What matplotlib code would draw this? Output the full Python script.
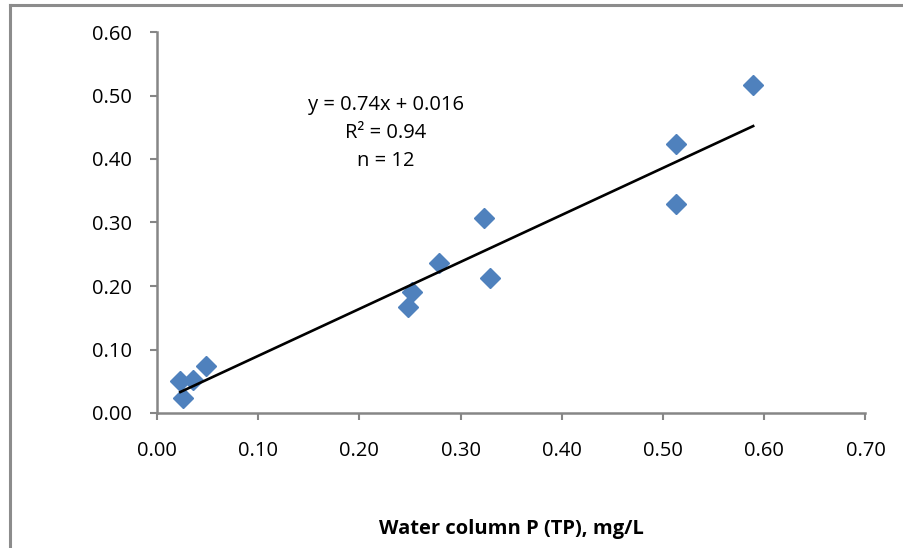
import numpy as np
import matplotlib.pyplot as plt
from matplotlib.lines import Line2D

# data
tp_water = [0.023, 0.026, 0.036, 0.048, 0.248, 0.252, 0.279, 0.323, 0.329, 0.513, 0.513, 0.589]
tp_other = [0.050, 0.024, 0.052, 0.074, 0.167, 0.190, 0.237, 0.307, 0.213, 0.423, 0.329, 0.517]
slope = 0.74
intercept = 0.016
eq_text = "y = 0.74x + 0.016\nR² = 0.94\nn = 12"
xticks = np.arange(0, 0.71, 0.1)
yticks = np.arange(0, 0.61, 0.1)

plt.rcParams['font.family'] = ['Open Sans', 'DejaVu Sans']
axis_grey = '#868686'
fs = 14.5

fig = plt.figure(figsize=(9.04, 5.48), dpi=100)
ax = fig.add_axes([157/904, 1-413/548, (865.5-157)/904, (413-32)/548])

ax.plot(tp_water, tp_other, 'D', color='#4F81BD', ms=10.5, mec='#4F81BD', zorder=3)

xf = np.array([min(tp_water), max(tp_water)])
ax.plot(xf, slope*xf + intercept, color='black', lw=1.9, zorder=4)

ax.text(0.226, 0.441, eq_text, ha='center', va='center', fontsize=fs, linespacing=1.55)

ax.set_xlim(0, 0.7)
ax.set_ylim(0, 0.6)
ax.set_xticks(xticks)
ax.set_yticks(yticks)
ax.set_xticklabels(['%.2f' % v for v in xticks])
ax.set_yticklabels(['%.2f' % v for v in yticks])
ax.tick_params(labelsize=fs, color=axis_grey, width=1.5, length=5, direction='out')
ax.tick_params(axis='x', pad=15)
ax.tick_params(axis='y', pad=13)
for s in ['top', 'right']:
    ax.spines[s].set_visible(False)
for s in ['left', 'bottom']:
    ax.spines[s].set_color(axis_grey)
    ax.spines[s].set_linewidth(1.8)

ax.set_xlabel('Water column P (TP), mg/L', fontsize=fs, fontweight='bold', labelpad=42)

# chart frame (only top and left edges visible)
fig.add_artist(Line2D([9.5/904, 9.5/904], [0, 1-5/548], color='#8c8c8c', lw=2.2, transform=fig.transFigure))
fig.add_artist(Line2D([9.5/904, 1], [1-5/548, 1-5/548], color='#8c8c8c', lw=2.2, transform=fig.transFigure))

fig.savefig('out.png', dpi=100)
